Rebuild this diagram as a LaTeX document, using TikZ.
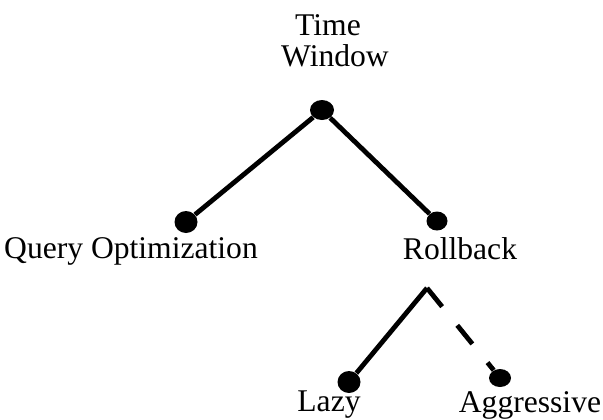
\documentclass[tikz,border=0pt]{standalone}
\usepackage{fontspec}
\setmainfont{Liberation Serif}
\usetikzlibrary{shapes.geometric}
\begin{document}
\begin{tikzpicture}[x=0.5pt,y=-0.5pt,
  dot/.style={ellipse,fill=black,inner sep=0pt,minimum width=11.5pt,minimum height=10pt},
  lbl/.style={inner sep=0pt,anchor=base,font=\fontsize{15.8}{18}\selectfont},
  edge/.style={line width=2.4pt},
  optedge/.style={edge,dash pattern=on 12pt off 12pt}]
\useasboundingbox (0,0) rectangle (603,419);
% labels
\node[lbl] (t1) at (328,35) {Time};
\node[lbl] (t2) at (335,66) {Window};
\node[lbl] (qo) at (131,258) {Query Optimization};
\node[lbl] (rb) at (460,259) {Rollback};
\node[lbl] (lz) at (329,411) {Lazy};
\node[lbl] (ag) at (530,412) {Aggressive};
% tree vertices
\node[dot,minimum width=12pt] (root) at (322,110) {};
\node[dot,minimum height=11pt] (qodot) at (186,222) {};
\node[dot,minimum width=10.5pt,minimum height=9.5pt] (rbdot) at (437,221) {};
\node[dot,minimum height=11pt] (lzdot) at (349,382) {};
\node[dot,minimum width=11pt,minimum height=9pt] (agdot) at (500,378) {};
\coordinate (split) at (427,288);
% edges
\draw[edge] (root) -- (qodot);
\draw[edge] (root) -- (rbdot);
\draw[edge] (split) -- (lzdot);
\draw[optedge] (split) -- (agdot);
\end{tikzpicture}
\end{document}
